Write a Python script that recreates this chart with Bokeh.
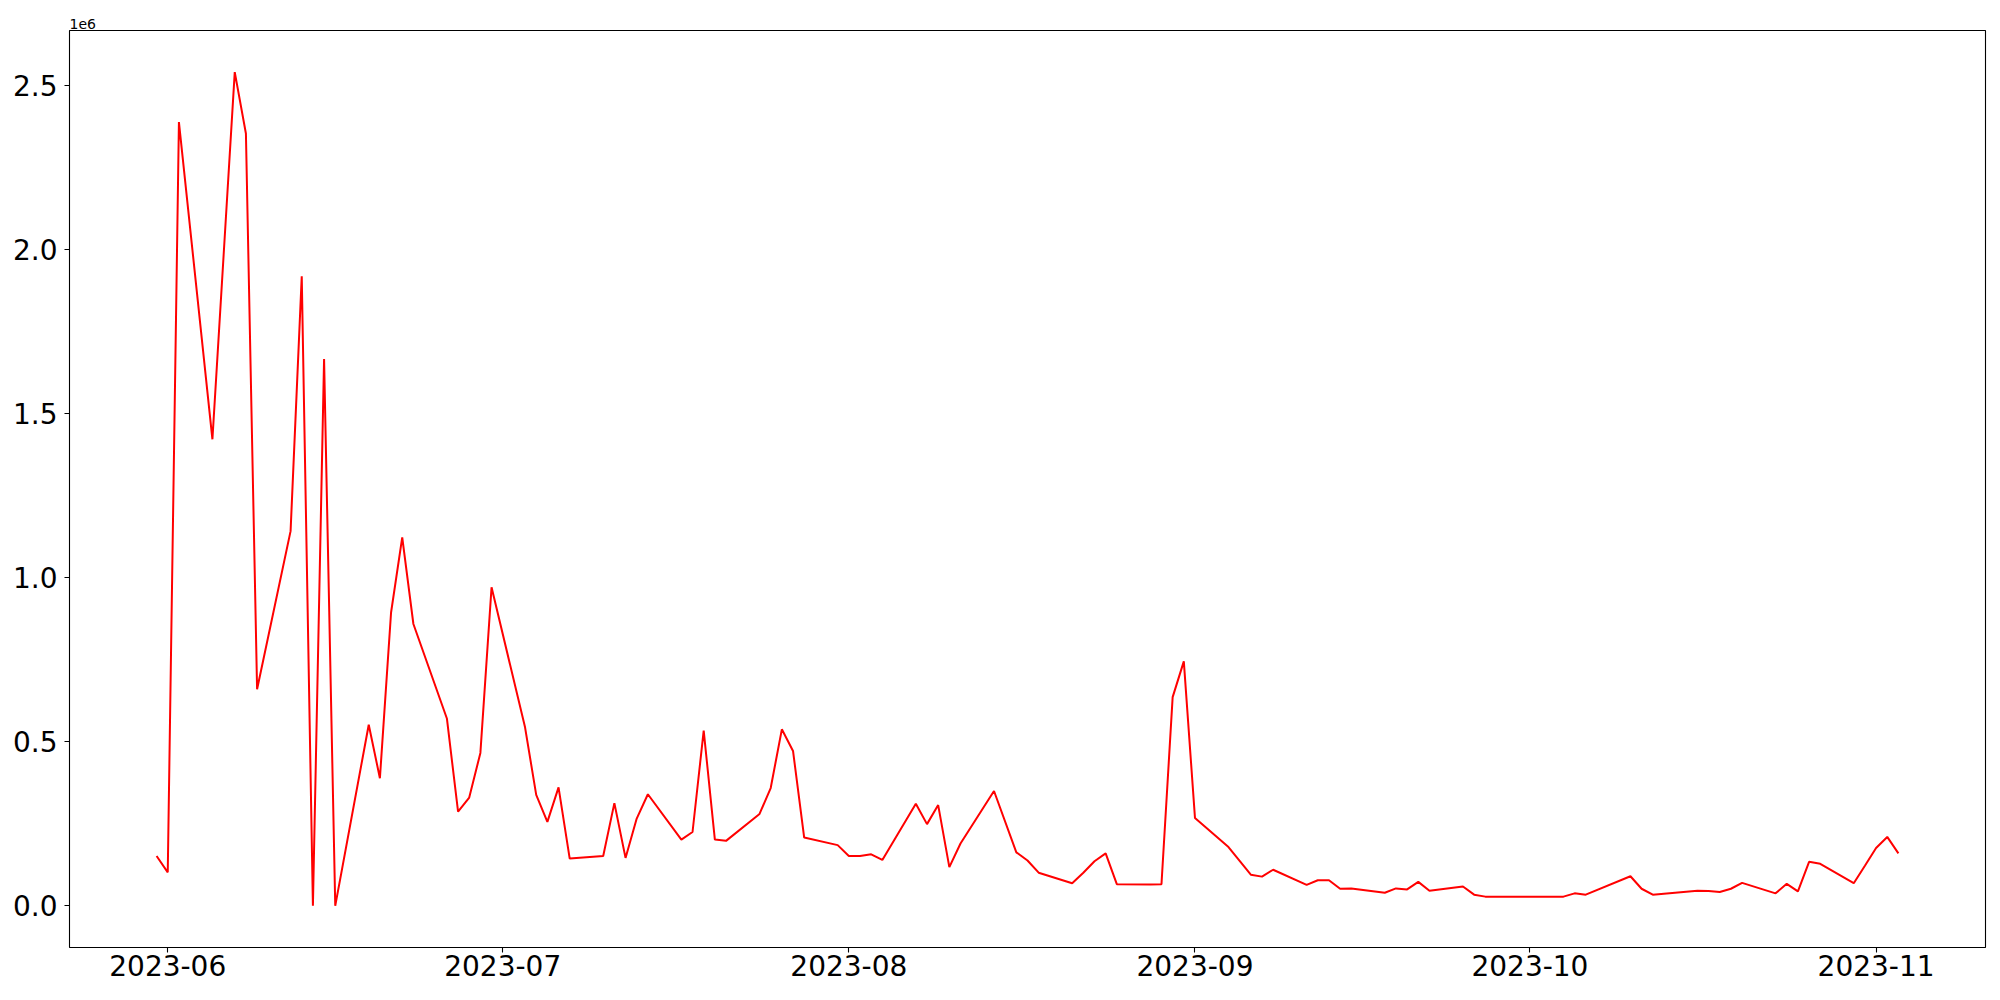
import pandas as pd
from bokeh.plotting import figure
from bokeh.models import Range1d, FixedTicker
from bokeh.embed import file_html
from bokeh.resources import INLINE

dates = [
    "2023-05-31", "2023-06-01", "2023-06-02", "2023-06-05", "2023-06-07", "2023-06-08", "2023-06-09",
    "2023-06-12", "2023-06-13", "2023-06-14", "2023-06-15", "2023-06-16",
    "2023-06-19", "2023-06-20", "2023-06-21", "2023-06-22", "2023-06-23",
    "2023-06-26", "2023-06-27", "2023-06-28", "2023-06-29", "2023-06-30",
    "2023-07-03", "2023-07-04", "2023-07-05", "2023-07-06", "2023-07-07",
    "2023-07-10", "2023-07-11", "2023-07-12", "2023-07-13", "2023-07-14",
    "2023-07-17", "2023-07-18", "2023-07-19", "2023-07-20", "2023-07-21",
    "2023-07-24", "2023-07-25", "2023-07-26", "2023-07-27", "2023-07-28",
    "2023-07-31", "2023-08-01", "2023-08-02", "2023-08-03", "2023-08-04",
    "2023-08-07", "2023-08-08", "2023-08-09", "2023-08-10", "2023-08-11",
    "2023-08-14", "2023-08-16", "2023-08-17", "2023-08-18",
    "2023-08-21", "2023-08-22", "2023-08-23", "2023-08-24", "2023-08-25",
    "2023-08-28", "2023-08-29", "2023-08-30", "2023-08-31", "2023-09-01",
    "2023-09-04", "2023-09-05", "2023-09-06", "2023-09-07", "2023-09-08",
    "2023-09-11", "2023-09-12", "2023-09-13", "2023-09-14", "2023-09-15",
    "2023-09-18", "2023-09-19", "2023-09-20", "2023-09-21", "2023-09-22",
    "2023-09-25", "2023-09-26", "2023-09-27",
    "2023-10-04", "2023-10-05", "2023-10-06",
    "2023-10-10", "2023-10-11", "2023-10-12", "2023-10-13",
    "2023-10-16", "2023-10-17", "2023-10-18", "2023-10-19", "2023-10-20",
    "2023-10-23", "2023-10-24", "2023-10-25", "2023-10-26", "2023-10-27",
    "2023-10-30", "2023-10-31", "2023-11-01", "2023-11-02", "2023-11-03",
]

values = [
    152000, 102000, 2389000, 1422000, 2541000, 2354000, 660000,
    1142000, 1919000, 0, 1667000, 0,
    552000, 389000, 894000, 1123000, 859000,
    571000, 287000, 330000, 466000, 971000,
    544000, 338000, 256000, 361000, 144000,
    152000, 313000, 146000, 266000, 340000,
    202000, 225000, 534000, 202000, 198000,
    280000, 359000, 538000, 472000, 208000,
    185000, 152000, 152000, 157000, 140000,
    311000, 249000, 307000, 118000, 190000,
    350000, 163000, 138000, 101000,
    69000, 101000, 136000, 160000, 66000,
    65000, 66000, 636000, 745000, 268000,
    179000, 137000, 95000, 89000, 110000,
    64000, 78000, 78000, 52000, 53000,
    40000, 53000, 50000, 73000, 46000,
    59000, 34000, 28000,
    28000, 38000, 34000,
    90000, 52000, 34000, 37000,
    46000, 45000, 42000, 52000, 70000,
    38000, 67000, 44000, 134000, 128000,
    69000, 122000, 176000, 210000, 160000,
]

x_tick_labels = ["2023-06", "2023-07", "2023-08", "2023-09", "2023-10", "2023-11"]
y_tick_values = [0, 500000, 1000000, 1500000, 2000000, 2500000]
y_tick_labels = ["0.0", "0.5", "1.0", "1.5", "2.0", "2.5"]
offset_text = "1e6"


def to_ms(s):
    return pd.to_datetime(s).value / 1e6


xs = [to_ms(d) for d in dates]
x_ticks = [to_ms(t + "-01") for t in x_tick_labels]

span_x = max(xs) - min(xs)
span_y = max(values) - min(values)
x0 = min(xs) - 0.05 * span_x
x1 = max(xs) + 0.05 * span_x
y0 = min(values) - 0.05 * span_y
y1 = max(values) + 0.05 * span_y

FONT = "DejaVu Sans"

p = figure(
    width=1992, height=992,
    x_range=Range1d(x0, x1), y_range=Range1d(y0, y1),
    output_backend="svg", toolbar_location=None,
    min_border_left=69, min_border_right=7, min_border_top=30, min_border_bottom=45,
    title=offset_text,
)
p.title.align = "left"
p.title.text_font = FONT
p.title.text_font_size = "14px"
p.title.text_font_style = "normal"
p.title.text_color = "black"
p.title.standoff = 3
p.title.offset = 0

p.background_fill_color = "white"
p.border_fill_color = "white"
p.outline_line_color = "black"
p.outline_line_width = 1.1
p.xgrid.visible = False
p.ygrid.visible = False

p.line(xs, values, line_color="#ff0000", line_width=2)

for ax in (p.xaxis[0], p.yaxis[0]):
    ax.axis_line_color = None
    ax.major_tick_out = 5
    ax.major_tick_in = 0
    ax.major_tick_line_width = 1.1
    ax.major_tick_line_color = "black"
    ax.minor_tick_line_color = None
    ax.major_label_text_font = FONT
    ax.major_label_text_font_size = "28px"
    ax.major_label_text_color = "black"

p.xaxis[0].ticker = FixedTicker(ticks=x_ticks)
p.xaxis[0].major_label_overrides = {t: l for t, l in zip(x_ticks, x_tick_labels)}
p.xaxis[0].major_label_standoff = 2

p.yaxis[0].ticker = FixedTicker(ticks=y_tick_values)
p.yaxis[0].major_label_overrides = {t: l for t, l in zip(y_tick_values, y_tick_labels)}
p.yaxis[0].major_label_standoff = 7

open("out.html", "w").write(file_html(p, INLINE))
